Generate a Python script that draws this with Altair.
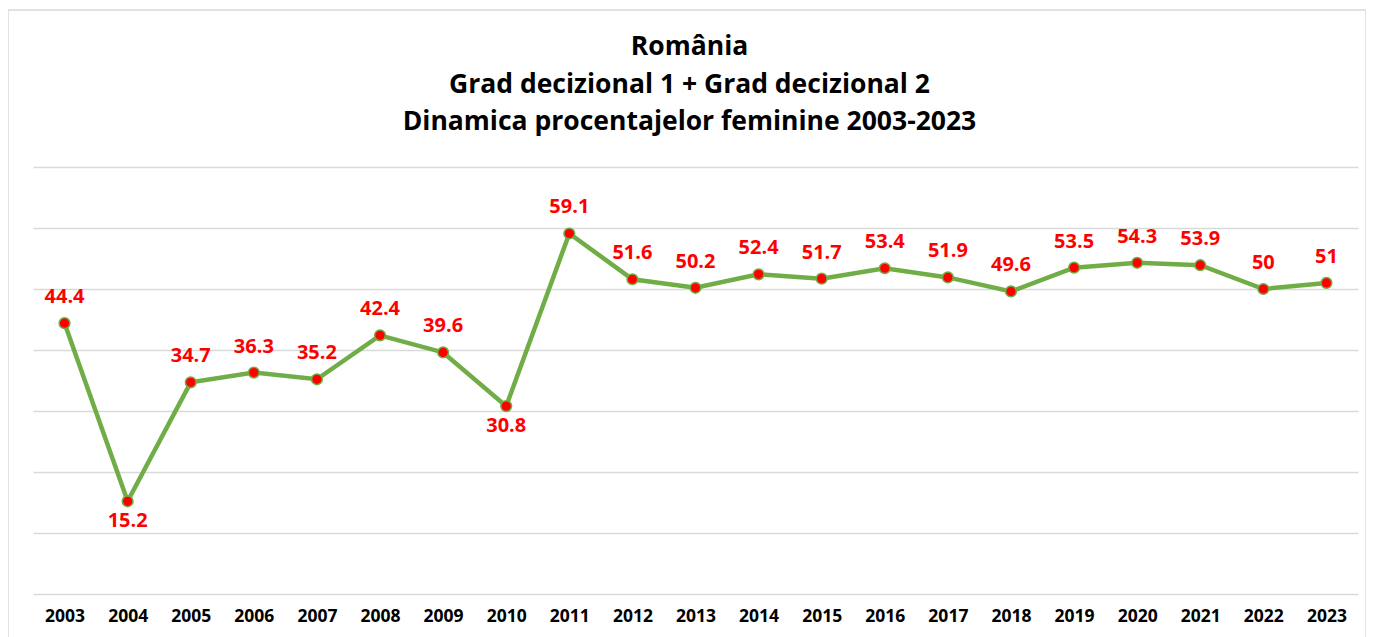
import altair as alt
import pandas as pd

years = [str(y) for y in range(2003, 2024)]
values = [44.4, 15.2, 34.7, 36.3, 35.2, 42.4, 39.6, 30.8, 59.1, 51.6, 50.2,
          52.4, 51.7, 53.4, 51.9, 49.6, 53.5, 54.3, 53.9, 50, 51]
labels_below = ["2004", "2010"]
title_lines = ["România", "Grad decizional 1 + Grad decizional 2",
               "Dinamica procentajelor feminine 2003-2023"]

df = pd.DataFrame({"year": years, "value": values})
df["label"] = df["value"].map(lambda v: f"{v:g}")
df["below"] = df["year"].isin(labels_below)

W, H = 1325, 427
FONT = "Open Sans"

x = alt.X("year:N", sort=years, scale=alt.Scale(type="point", padding=0.5),
          axis=alt.Axis(title=None, labelAngle=0, labelFont=FONT, labelFontWeight="bold",
                        labelFontSize=17.5, labelColor="#000000", ticks=False, domain=False,
                        labelPadding=13, grid=False))
y = alt.Y("value:Q", scale=alt.Scale(domain=[0, 70], nice=False),
          axis=alt.Axis(title=None, labels=False, ticks=False, domain=False,
                        values=[0, 10, 20, 30, 40, 50, 60, 70],
                        gridColor="#d9d9d9", gridWidth=1.5))

base = alt.Chart(df)

line = base.mark_line(color="#70AD47", strokeWidth=4.5).encode(x=x, y=y)
pts = base.mark_point(filled=True, fill="#FF0000", stroke="#70AD47", strokeWidth=1.5,
                      size=115, opacity=1).encode(x=x, y=y)
txt_above = base.transform_filter("!datum.below").mark_text(
    font=FONT, fontWeight="bold", fontSize=20, color="#FF0000", dy=-26, baseline="middle"
).encode(x=x, y=y, text="label:N")
txt_below = base.transform_filter("datum.below").mark_text(
    font=FONT, fontWeight="bold", fontSize=20, color="#FF0000", dy=20, baseline="middle"
).encode(x=x, y=y, text="label:N")

border = alt.Chart(pd.DataFrame({"a": [0]})).mark_rect(
    fill=None, stroke="#d9d9d9", strokeWidth=1.5
).encode(x=alt.value(-25), x2=alt.value(1333), y=alt.value(-157), y2=alt.value(490))

title_layers = []
for i, t in enumerate(title_lines):
    title_layers.append(
        alt.Chart(pd.DataFrame({"t": [t]})).mark_text(
            font=FONT, fontWeight="bold", fontSize=26.5, color="#000000",
            baseline="middle", align="center"
        ).encode(x=alt.value(W / 2 - 6), y=alt.value(-120 + 37.5 * i), text="t:N")
    )

chart = alt.layer(border, line, pts, txt_above, txt_below, *title_layers).properties(
    width=W, height=H,
    autosize=alt.AutoSizeParams(type="none"),
    padding={"left": 25, "top": 159, "right": 8, "bottom": 45},
).configure_view(stroke=None)

chart.save("out.html", embed_options={"renderer": "svg", "actions": False})
